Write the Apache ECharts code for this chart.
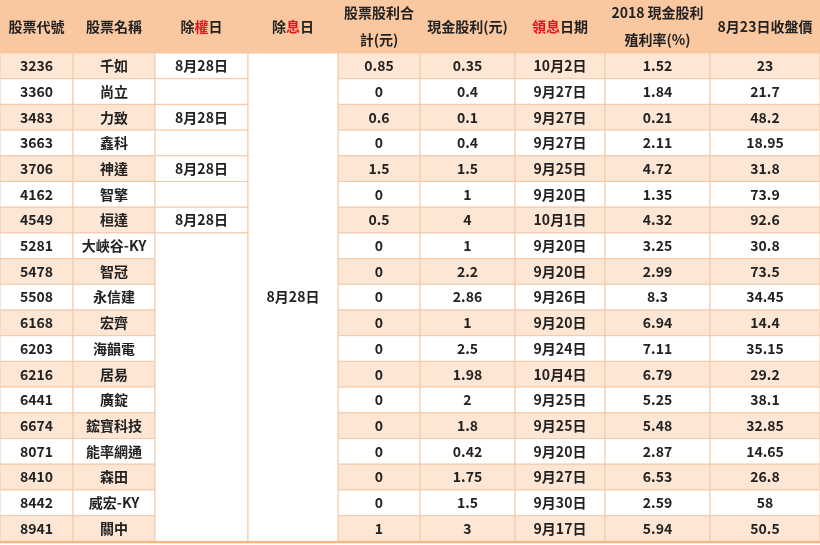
<!DOCTYPE html>
<html>
<head>
<meta charset="utf-8">
<script src="https://cdn.jsdelivr.net/npm/echarts@6/dist/echarts.min.js"></script>
<style>html,body{margin:0;padding:0;background:#fff}#main{width:820px;height:545px}</style>
</head>
<body>
<div id="main"></div>
<script>
const codes = ['3236','3360','3483','3663','3706','4162','4549','5281','5478','5508','6168','6203','6216','6441','6674','8071','8410','8442','8941']
const names = ['千如','尚立','力致','鑫科','神達','智擎','桓達','大峽谷-KY','智冠','永信建','宏齊','海韻電','居易','廣錠','鋐寶科技','能率網通','森田','威宏-KY','關中']
const exRight = ['8月28日','','8月28日','','8月28日','','8月28日']
const exDiv = '8月28日'
const stockDiv = ['0.85','0','0.6','0','1.5','0','0.5','0','0','0','0','0','0','0','0','0','0','0','1']
const cashDiv = ['0.35','0.4','0.1','0.4','1.5','1','4','1','2.2','2.86','1','2.5','1.98','2','1.8','0.42','1.75','1.5','3']
const payDate = ['10月2日','9月27日','9月27日','9月27日','9月25日','9月20日','10月1日','9月20日','9月20日','9月26日','9月20日','9月24日','10月4日','9月25日','9月25日','9月20日','9月27日','9月30日','9月17日']
const yieldPct = ['1.52','1.84','0.21','2.11','4.72','1.35','4.32','3.25','2.99','8.3','6.94','7.11','6.79','5.25','5.48','2.87','6.53','2.59','5.94']
const close = ['23','21.7','48.2','18.95','31.8','73.9','92.6','30.8','73.5','34.45','14.4','35.15','29.2','38.1','32.85','14.65','26.8','58','50.5']
const headers = ['股票代號','股票名稱','除{r|權}日','除{r|息}日','股票股利合\n計(元)','現金股利(元)','{r|領息}日期','2018 現金股利\n殖利率(%)','8月23日收盤價']

const colEdges = [0, 73, 155, 248, 338, 420, 515, 605, 710, 820]
const headH = 53
const rowH = 25.7
const HEAD_BG = '#f9c8a0', PEACH = '#fde6d4', LINE = '#f3c9a8'

const cells = []
const rowTop = i => headH + i * rowH
headers.forEach((h, c) => cells.push([colEdges[c], colEdges[c+1], 0, headH, h, HEAD_BG, 1]))
codes.forEach((code, i) => {
  const bg = i % 2 === 0 ? PEACH : '#ffffff'
  const y0 = rowTop(i), y1 = rowTop(i + 1)
  const vals = [code, names[i], null, null, stockDiv[i], cashDiv[i], payDate[i], yieldPct[i], close[i]]
  vals.forEach((v, c) => {
    if (v === null) return
    cells.push([colEdges[c], colEdges[c+1], y0, y1, v, bg, 0])
  })
  if (i < exRight.length) cells.push([colEdges[2], colEdges[3], y0, y1, exRight[i], '#ffffff', 0])
})
cells.push([colEdges[2], colEdges[3], rowTop(exRight.length), rowTop(codes.length), '', '#ffffff', 0])
cells.push([colEdges[3], colEdges[4], rowTop(0), rowTop(codes.length), exDiv, '#ffffff', 0])

const chart = echarts.init(document.getElementById('main'))
chart.setOption({
  animation: false,
  grid: { left: 0, right: 0, top: 0, bottom: 0 },
  xAxis: { type: 'value', min: 0, max: 820, show: false },
  yAxis: { type: 'value', min: 0, max: 545, inverse: true, show: false },
  series: [{
    type: 'custom',
    data: cells,
    renderItem: (params, api) => {
      const p0 = api.coord([api.value(0), api.value(2)])
      const p1 = api.coord([api.value(1), api.value(3)])
      const d = cells[params.dataIndex]
      return {
        type: 'group',
        children: [{
          type: 'rect',
          shape: { x: p0[0], y: p0[1], width: p1[0] - p0[0], height: p1[1] - p0[1] },
          style: { fill: d[5], stroke: d[6] ? HEAD_BG : LINE, lineWidth: 1 }
        }, {
          type: 'text',
          style: {
            x: (p0[0] + p1[0]) / 2, y: (p0[1] + p1[1]) / 2,
            text: d[4], align: 'center', verticalAlign: 'middle',
            fill: '#222', fontSize: 14, fontWeight: 'bold', lineHeight: 27,
            fontFamily: 'Noto Sans CJK TC',
            rich: { r: { fill: '#e8101a', fontSize: 14, fontWeight: 'bold', fontFamily: 'Noto Sans CJK TC' } }
          }
        }]
      }
    }
  }, {
    type: 'line',
    data: [[0, rowTop(codes.length) + 1], [820, rowTop(codes.length) + 1]],
    symbol: 'none',
    lineStyle: { color: '#f7b27a', width: 2 }
  }]
})
</script>
</body>
</html>
